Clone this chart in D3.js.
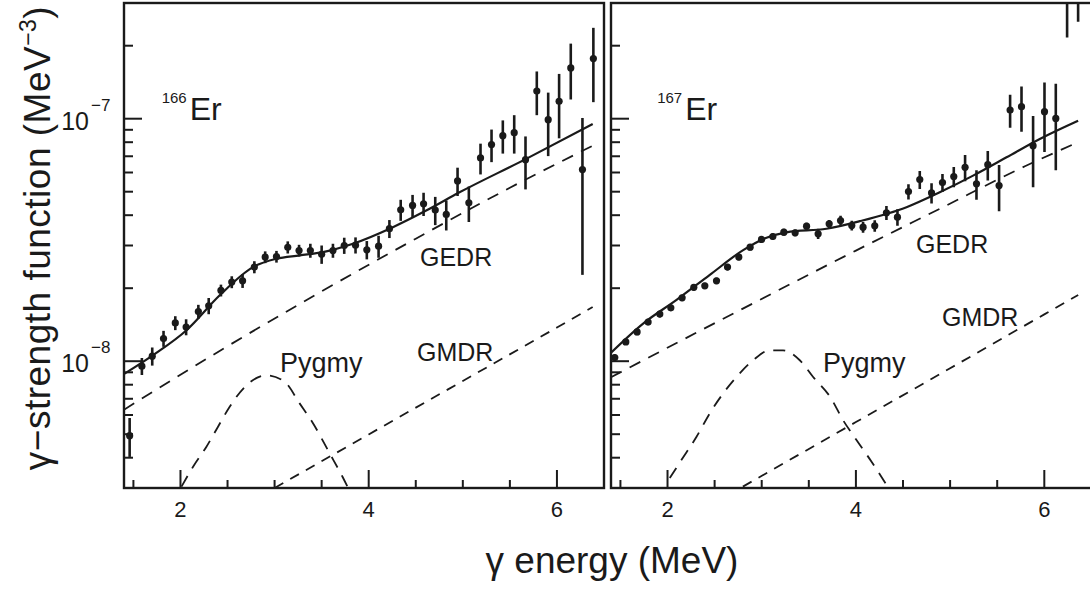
<!DOCTYPE html>
<html>
<head>
<meta charset="utf-8">
<script src="https://cdn.jsdelivr.net/npm/d3@7"></script>
<style>
  body { margin: 0; background: #fff; }
  svg { display: block; font-family: "Liberation Sans", Arial, sans-serif; }
</style>
</head>
<body>
<div id="chart"></div>
<script>
// chart size
const width = 1090, height = 590;

// ---- 166Er data (left panel) ----
const energy166 = [1.46,1.59,1.70,1.82,1.945,2.06,2.19,2.30,2.43,2.545,2.66,2.785,2.90,3.02,3.14,3.26,3.38,3.50,3.62,3.74,3.86,3.98,
  4.105,4.22,4.34,4.466,4.583,4.707,4.824,4.944,5.064,5.188,5.305,5.425,5.546,5.666,5.786,5.907,6.023,6.147,6.271,6.387];
const strength166 = [4.93e-9,9.54e-9,1.049e-8,1.24e-8,1.438e-8,1.384e-8,1.602e-8,1.692e-8,1.959e-8,2.12e-8,2.145e-8,2.444e-8,2.687e-8,2.70e-8,
  2.95e-8,2.86e-8,2.86e-8,2.76e-8,2.86e-8,3.00e-8,3.01e-8,2.88e-8,2.98e-8,3.52e-8,4.21e-8,4.39e-8,4.46e-8,4.20e-8,4.03e-8,5.54e-8,
  4.50e-8,6.89e-8,7.82e-8,8.51e-8,8.76e-8,6.78e-8,1.30e-7,9.91e-8,1.18e-7,1.62e-7,6.17e-8,1.77e-7];
const error166 = [0.9e-9,0.77e-9,0.9e-9,0.94e-9,0.95e-9,1.05e-9,1.06e-9,1.3e-9,1.1e-9,1.2e-9,1.4e-9,1.4e-9,1.5e-9,1.5e-9,1.7e-9,1.6e-9,
  1.9e-9,2.4e-9,1.9e-9,2.3e-9,2.3e-9,2.5e-9,3.1e-9,3.0e-9,4.2e-9,4.6e-9,4.9e-9,5.6e-9,5.7e-9,7.4e-9,7.5e-9,1.0e-8,1.2e-8,1.33e-8,
  1.58e-8,1.67e-8,2.66e-8,2.9e-8,3.5e-8,4.2e-8,3.9e-8,6.0e-8];

const fitE166 = [1.398,1.709,2.064,2.417,2.771,3.019,3.266,3.514,3.832,4.257,4.611,4.965,5.673,6.38];
const fitV166 = [8.84e-9,1.059e-8,1.341e-8,1.87e-8,2.444e-8,2.646e-8,2.73e-8,2.817e-8,3.05e-8,3.57e-8,4.18e-8,4.97e-8,6.83e-8,9.51e-8];
const gedrE166 = [1.4,2.5,3.5,4.5,5.5,6.38];
const gedrV166 = [6.31e-9,1.153e-8,1.941e-8,3.20e-8,5.19e-8,7.74e-8];
const gmdrE166 = [3.0,4.0,5.0,6.0,6.38];
const gmdrV166 = [3.0e-9,4.99e-9,8.29e-9,1.377e-8,1.673e-8];
const pygmyE166 = [2.011,2.134,2.276,2.399,2.523,2.683,2.913,3.107,3.266,3.408,3.585,3.723,3.776];
const pygmyV166 = [3.04e-9,3.67e-9,4.44e-9,5.37e-9,6.49e-9,7.83e-9,8.75e-9,8.22e-9,6.70e-9,5.55e-9,4.17e-9,3.33e-9,3.03e-9];

// ---- 167Er data (right panel) ----
const energy167 = [1.44,1.557,1.677,1.794,1.918,2.035,2.155,2.279,2.396,2.52,2.637,2.757,2.877,2.998,3.118,3.235,3.355,3.476,3.599,3.716,
  3.837,3.956,4.076,4.20,4.324,4.441,4.558,4.678,4.803,4.919,5.039,5.159,5.28,5.40,5.52,5.637,5.758,5.881,6.002,6.122,6.242,6.359];
const strength167 = [1.036e-8,1.201e-8,1.320e-8,1.451e-8,1.565e-8,1.660e-8,1.825e-8,2.016e-8,2.045e-8,2.145e-8,2.444e-8,2.687e-8,2.953e-8,
  3.177e-8,3.268e-8,3.404e-8,3.385e-8,3.603e-8,3.353e-8,3.686e-8,3.803e-8,3.627e-8,3.569e-8,3.617e-8,4.092e-8,3.925e-8,5.006e-8,5.61e-8,
  4.944e-8,5.452e-8,5.77e-8,6.30e-8,5.386e-8,6.465e-8,5.30e-8,1.086e-7,1.121e-7,7.74e-8,1.069e-7,1.003e-7,3.3e-7,3.7e-7];
const error167 = [0.3e-9,0.35e-9,0.4e-9,0.45e-9,0.5e-9,0.5e-9,0.55e-9,0.6e-9,0.6e-9,0.65e-9,0.75e-9,0.8e-9,0.9e-9,1.0e-9,1.0e-9,1.1e-9,
  1.1e-9,1.2e-9,1.6e-9,1.4e-9,1.8e-9,1.7e-9,1.8e-9,2.0e-9,2.7e-9,3.1e-9,3.6e-9,4.8e-9,4.7e-9,4.7e-9,5.5e-9,7.8e-9,7.5e-9,9.0e-9,
  1.15e-8,1.68e-8,2.38e-8,2.53e-8,3.4e-8,3.9e-8,1.14e-7,1.19e-7];

const fitE167 = [1.406,1.741,2.096,2.449,2.803,3.051,3.263,3.688,4.041,4.537,4.890,5.244,5.599,5.952,6.359];
const fitV167 = [1.09e-8,1.43e-8,1.79e-8,2.27e-8,2.87e-8,3.23e-8,3.40e-8,3.516e-8,3.779e-8,4.315e-8,4.973e-8,5.825e-8,6.93e-8,8.25e-8,9.81e-8];
const gedrE167 = [1.4,2.8,4.0,4.9,5.8,6.36];
const gedrV167 = [8.59e-9,1.648e-8,2.858e-8,4.27e-8,6.38e-8,8.0e-8];
const gmdrE167 = [2.8,4.0,5.0,6.0,6.36];
const gmdrV167 = [3.04e-9,5.61e-9,9.35e-9,1.56e-8,1.875e-8];
const pygmyE167 = [2.024,2.149,2.308,2.449,2.590,2.732,2.909,3.086,3.227,3.404,3.546,3.726,3.864,4.006,4.166,4.339];
const pygmyV167 = [3.30e-9,3.92e-9,4.88e-9,6.10e-9,7.36e-9,8.61e-9,1.009e-8,1.109e-8,1.109e-8,1.009e-8,8.61e-9,7.13e-9,5.71e-9,4.73e-9,3.85e-9,3.03e-9];

// axis ticks
const xMajorTicks = [2, 4, 6];
const xMinorTicks = [1.5, 2.5, 3, 3.5, 4.5, 5, 5.5];
const yMajorTicks = [1e-8, 1e-7];
const yMinorTicks = [4e-9,5e-9,6e-9,7e-9,8e-9,9e-9,2e-8,3e-8,4e-8,5e-8,6e-8,7e-8,8e-8,9e-8,2e-7];
const yMajorLabels = ["8", "7"];

const ink = "#1a1a1a";
const svg = d3.select("#chart").append("svg")
    .attr("width", width)
    .attr("height", height);

const y = d3.scaleLog().domain([3e-9, 3e-7]).range([488, 3]);

const zip = (xs, vs) => xs.map((e, i) => [e, vs[i]]);

function drawPanel(id, x0, x1, d) {
    const x = d3.scaleLinear().domain([1.4, 6.5]).range([x0, x1]);
    const g = svg.append("g");

    g.append("clipPath").attr("id", "clip" + id)
      .append("rect")
        .attr("x", x0).attr("y", y.range()[1])
        .attr("width", x1 - x0).attr("height", y.range()[0] - y.range()[1]);

    const plot = g.append("g").attr("clip-path", `url(#clip${id})`);
    const line = d3.line().x(p => x(p[0])).y(p => y(p[1])).curve(d3.curveMonotoneX);

    // dashed components
    plot.append("path").datum(zip(d.gedrE, d.gedrV))
        .attr("d", line).attr("fill", "none").attr("stroke", ink)
        .attr("stroke-width", 1.8).attr("stroke-dasharray", "12,9");
    plot.append("path").datum(zip(d.gmdrE, d.gmdrV))
        .attr("d", line).attr("fill", "none").attr("stroke", ink)
        .attr("stroke-width", 1.8).attr("stroke-dasharray", "10,8");
    plot.append("path").datum(zip(d.pygE, d.pygV))
        .attr("d", line).attr("fill", "none").attr("stroke", ink)
        .attr("stroke-width", 1.8).attr("stroke-dasharray", "12,9");

    // total fit
    plot.append("path").datum(zip(d.fitE, d.fitV))
        .attr("d", line).attr("fill", "none").attr("stroke", ink)
        .attr("stroke-width", 2.2);

    // data points with error bars
    const pts = d.E.map((e, i) => ({e: e, v: d.V[i], s: d.S[i]}));
    plot.selectAll(".bar").data(pts).enter().append("line")
        .attr("x1", p => x(p.e)).attr("x2", p => x(p.e))
        .attr("y1", p => y(p.v + p.s))
        .attr("y2", p => y(Math.max(p.v - p.s, 1e-10)))
        .attr("stroke", ink).attr("stroke-width", 2.6);
    plot.selectAll(".dot").data(pts).enter().append("circle")
        .attr("cx", p => x(p.e)).attr("cy", p => y(p.v))
        .attr("r", 3.6).attr("fill", ink);

    // frame
    g.append("rect")
        .attr("x", x0).attr("y", y.range()[1])
        .attr("width", x1 - x0).attr("height", y.range()[0] - y.range()[1])
        .attr("fill", "none").attr("stroke", ink).attr("stroke-width", 2.4);

    // inward ticks
    const yb = y.range()[0];
    g.selectAll(".xmaj").data(xMajorTicks).enter().append("line")
        .attr("x1", v => x(v)).attr("x2", v => x(v))
        .attr("y1", yb).attr("y2", yb - 18)
        .attr("stroke", ink).attr("stroke-width", 2);
    g.selectAll(".xmin").data(xMinorTicks).enter().append("line")
        .attr("x1", v => x(v)).attr("x2", v => x(v))
        .attr("y1", yb).attr("y2", yb - 8)
        .attr("stroke", ink).attr("stroke-width", 2);
    g.selectAll(".ymaj").data(yMajorTicks).enter().append("line")
        .attr("x1", x0).attr("x2", x0 + 18)
        .attr("y1", v => y(v)).attr("y2", v => y(v))
        .attr("stroke", ink).attr("stroke-width", 2);
    g.selectAll(".ymin").data(yMinorTicks).enter().append("line")
        .attr("x1", x0).attr("x2", x0 + 9)
        .attr("y1", v => y(v)).attr("y2", v => y(v))
        .attr("stroke", ink).attr("stroke-width", 2);

    // x tick labels
    g.selectAll(".xlab").data(xMajorTicks).enter().append("text")
        .attr("x", v => x(v)).attr("y", 517)
        .attr("text-anchor", "middle")
        .attr("font-size", 22).attr("fill", ink)
        .text(v => v);

    // nucleus label
    g.append("text").attr("x", x(d.nucE)).attr("y", 103)
        .attr("font-size", 15).attr("fill", ink).text(d.mass);
    g.append("text").attr("x", x(d.nucE) + 28).attr("y", 120)
        .attr("font-size", 32).attr("fill", ink).text("Er");

    // component labels
    d.labels.forEach(l => {
        g.append("text").attr("x", x(l.e)).attr("y", y(l.v))
            .attr("font-size", l.size).attr("fill", ink).text(l.text);
    });
    return x;
}

drawPanel("L", 124, 604, {
    E: energy166, V: strength166, S: error166,
    fitE: fitE166, fitV: fitV166, gedrE: gedrE166, gedrV: gedrV166,
    gmdrE: gmdrE166, gmdrV: gmdrV166, pygE: pygmyE166, pygV: pygmyV166,
    mass: "166", nucE: 1.80,
    labels: [
        {text: "GEDR", e: 4.545, v: 2.47e-8, size: 25},
        {text: "GMDR", e: 4.513, v: 1.0e-8, size: 25},
        {text: "Pygmy", e: 3.057, v: 9.03e-9, size: 27}
    ]
});

drawPanel("R", 611, 1091.4, {
    E: energy167, V: strength167, S: error167,
    fitE: fitE167, fitV: fitV167, gedrE: gedrE167, gedrV: gedrV167,
    gmdrE: gmdrE167, gmdrV: gmdrV167, pygE: pygmyE167, pygV: pygmyV167,
    mass: "167", nucE: 1.89,
    labels: [
        {text: "GEDR", e: 4.638, v: 2.79e-8, size: 25},
        {text: "GMDR", e: 4.914, v: 1.397e-8, size: 25},
        {text: "Pygmy", e: 3.651, v: 9.03e-9, size: 27}
    ]
});

// y tick labels (left panel only)
yMajorTicks.forEach((v, i) => {
    svg.append("text").attr("x", 89).attr("y", y(v) + 11)
        .attr("text-anchor", "end").attr("font-size", 25).attr("fill", ink)
        .text("10");
    svg.append("text").attr("x", 91).attr("y", y(v) - 8)
        .attr("font-size", 17).attr("fill", ink)
        .text("\u2212" + yMajorLabels[i]);
});

// axis titles
const yTitle = svg.append("text")
    .attr("transform", "translate(50,238) rotate(-90)")
    .attr("text-anchor", "middle")
    .attr("font-size", 37).attr("letter-spacing", 0.5).attr("fill", ink);
yTitle.append("tspan").text("\u03b3\u2212strength function (MeV");
yTitle.append("tspan").attr("dy", -14).attr("font-size", 23).text("\u22123");
yTitle.append("tspan").attr("dy", 14).text(")");

svg.append("text")
    .attr("x", 612).attr("y", 573)
    .attr("text-anchor", "middle")
    .attr("font-size", 37).attr("fill", ink)
    .text("\u03b3 energy (MeV)");
</script>
</body>
</html>
